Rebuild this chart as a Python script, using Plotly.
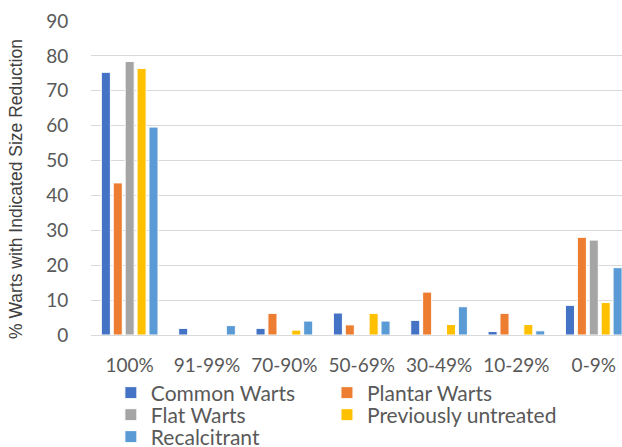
import plotly.graph_objects as go

categories = ["100%", "91-99%", "70-90%", "50-69%", "30-49%", "10-29%", "0-9%"]
common_warts = [75.3, 1.9, 1.9, 6.3, 4.2, 1.0, 8.5]
plantar_warts = [43.6, 0, 6.2, 2.9, 12.3, 6.2, 28.0]
flat_warts = [78.4, 0, 0, 0, 0, 0, 27.2]
previously_untreated = [76.4, 0, 1.4, 6.2, 3.0, 3.0, 9.3]
recalcitrant = [59.6, 2.7, 4.0, 4.0, 8.1, 1.2, 19.3]
y_ticks = [0, 10, 20, 30, 40, 50, 60, 70, 80, 90]

series = [
    ("Common Warts", common_warts, "#4472C4", "legend"),
    ("Plantar Warts", plantar_warts, "#ED7D31", "legend2"),
    ("Flat Warts", flat_warts, "#A5A5A5", "legend3"),
    ("Previously untreated", previously_untreated, "#FFC000", "legend4"),
    ("Recalcitrant", recalcitrant, "#5B9BD5", "legend5"),
]

fig = go.Figure()
for name, vals, color, lg in series:
    fig.add_trace(go.Bar(
        x=categories, y=vals, name=name, showlegend=True,
        marker=dict(color=color, line=dict(color="white", width=1)),
        legend=lg,
    ))

tick_font = dict(family="Lato, Carlito, Calibri, sans-serif", size=19, color="#595959")
legend_font = dict(family="Lato, Carlito, Calibri, sans-serif", size=21, color="#595959")

col_x = [0.0374, 0.4444]
row_y = [-0.1847, -0.2548, -0.3248]

def item_legend(col, row):
    return dict(
        x=col_x[col], y=row_y[row], xanchor="left", yanchor="middle",
        orientation="v", font=legend_font, tracegroupgap=0,
        bgcolor="rgba(0,0,0,0)",
    )

fig.update_layout(
    width=622, height=447,
    showlegend=True,
    margin=dict(l=91, r=0, t=21, b=112, autoexpand=False),
    paper_bgcolor="white", plot_bgcolor="white",
    barmode="group", bargap=0.23, bargroupgap=0.24,
    xaxis=dict(
        type="category", range=[-0.5, 6.365], automargin=False,
        tickfont=tick_font, showgrid=False,
        showline=True, linecolor="#D9D9D9", linewidth=1,
        ticks="outside", ticklen=0, tickcolor="white",
        ticklabelstandoff=13,
    ),
    yaxis=dict(
        range=[0, 90], tickvals=y_ticks, ticktext=[str(v) for v in y_ticks],
        automargin=False,
        tickfont=tick_font, showgrid=True, gridcolor="#D9D9D9", gridwidth=1,
        zeroline=False, showline=False,
        ticks="outside", ticklen=0, tickcolor="white",
        ticklabelstandoff=18,
    ),
    legend=item_legend(0, 0),
    legend2=item_legend(1, 0),
    legend3=item_legend(0, 1),
    legend4=item_legend(1, 1),
    legend5=item_legend(0, 2),
    annotations=[dict(
        text="% Warts with Indicated Size Reduction",
        xref="paper", yref="paper", x=-0.1413, y=0.465,
        xanchor="center", yanchor="middle", textangle=-90, showarrow=False,
        font=dict(family="Liberation Sans, Arial, sans-serif", size=17.5, color="#404040"),
    )],
)

fig.write_html(
    "out.html",
    config={"displayModeBar": False},
    post_script="document.body.style.margin='0';document.body.style.overflow='hidden';",
)
